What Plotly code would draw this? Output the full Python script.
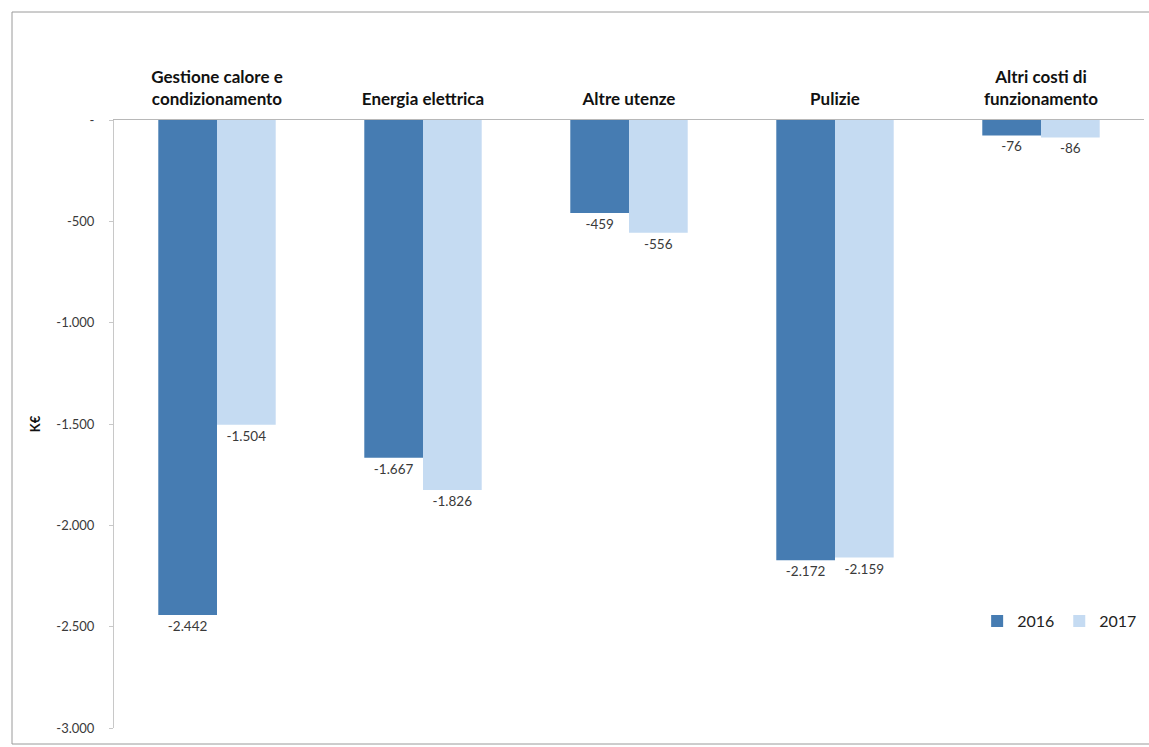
import plotly.graph_objects as go

categories = [
    "Gestione calore e<br>condizionamento",
    "Energia elettrica",
    "Altre utenze",
    "Pulizie",
    "Altri costi di<br>funzionamento",
]
values_2016 = [-2442, -1667, -459, -2172, -76]
values_2017 = [-1504, -1826, -556, -2159, -86]
y_ticks = [0, -500, -1000, -1500, -2000, -2500, -3000]

COLOR_2016 = "#467cb2"
COLOR_2017 = "#c5dbf2"
FONT = "Lato"


def it_number(v):
    # Italian thousands separator, accounting-style dash for zero
    if v == 0:
        return "-"
    s = f"{abs(v):,}".replace(",", ".")
    return ("-" if v < 0 else "") + s


fig = go.Figure()
for name, vals, color in [("2016", values_2016, COLOR_2016), ("2017", values_2017, COLOR_2017)]:
    fig.add_trace(go.Bar(
        name=name,
        x=categories,
        y=vals,
        marker=dict(color=color, line=dict(width=0)),
        text=[it_number(v) for v in vals],
        textposition="outside",
        textfont=dict(family=FONT, size=13.5, color="#3a3a3a"),
        cliponaxis=False,
    ))

fig.update_layout(
    width=1149,
    height=747,
    paper_bgcolor="white",
    plot_bgcolor="white",
    barmode="group",
    bargap=0.43,
    bargroupgap=0.0,
    margin=dict(l=114, r=5, t=120, b=19, autoexpand=False),
    font=dict(family=FONT, color="#222222"),
    showlegend=True,
    legend=dict(
        orientation="h",
        x=0.838, y=0.176,
        xanchor="left", yanchor="middle",
        font=dict(family=FONT, size=16, color="#222222"),
        bgcolor="rgba(0,0,0,0)",
        itemwidth=30,
        traceorder="normal",
    ),
    xaxis=dict(
        side="top",
        showline=True,
        linecolor="#b8b8b8",
        linewidth=1,
        ticks="",
        tickfont=dict(family=FONT, size=17, color="#111111", weight="bold"),
        ticklabelstandoff=7,
        showgrid=False,
        fixedrange=True,
    ),
    yaxis=dict(
        range=[-3000, 0],
        tickvals=y_ticks,
        ticktext=[it_number(v) for v in y_ticks],
        tickfont=dict(family=FONT, size=13, color="#3a3a3a"),
        showline=True,
        linecolor="#c8c8c8",
        linewidth=1,
        ticks="outside",
        ticklen=4,
        tickcolor="#c8c8c8",
        ticklabelstandoff=12,
        showgrid=False,
        zeroline=False,
        title=dict(text="<b>K€</b>", font=dict(family=FONT, size=13, color="#111111"), standoff=12),
        fixedrange=True,
    ),
    shapes=[
        dict(
            type="rect", xref="paper", yref="paper",
            x0=(12 - 114) / 1030, x1=(1160 - 114) / 1030,
            y0=(728 - 744) / 608, y1=(728 - 12) / 608,
            line=dict(color="#9a9a9a", width=1),
            fillcolor="rgba(0,0,0,0)",
            layer="below",
        )
    ],
)

fig.write_html("out.html")
